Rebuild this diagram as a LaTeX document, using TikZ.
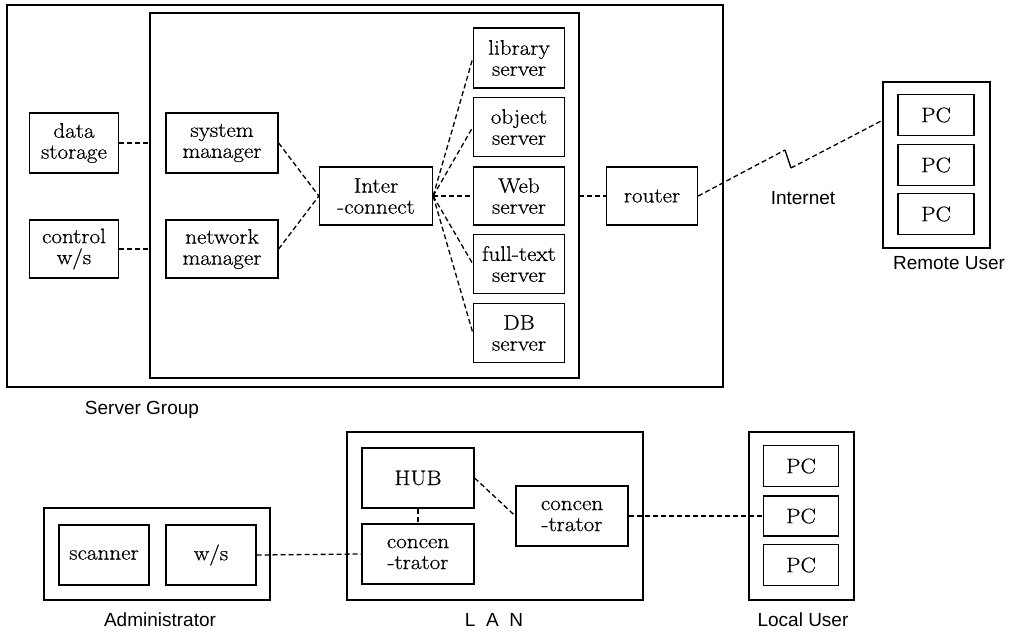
\documentclass[tikz,border=0pt]{standalone}
\usepackage{fontspec}
\newfontfamily\labelfont{Liberation Sans}
\newfontfamily\boxfont{Latin Modern Roman}[FakeBold=0.6,FakeStretch=1.1]
\begin{document}
\begin{tikzpicture}[x=1pt,y=-1pt,
  box/.style={draw,line width=1.3pt,inner sep=0pt,align=center,
    font=\boxfont\fontsize{21}{21}\selectfont},
  frame/.style={draw,line width=1.3pt},
  link/.style={line width=1.3pt,dash pattern=on 5pt off 3pt},
  lbl/.style={font=\labelfont\fontsize{19}{22}\selectfont}]
\useasboundingbox (0,0) rectangle (1011,633);
% frames
\draw[frame] (7,5) rectangle (723,387);
\draw[frame] (150,13) rectangle (579,378);
\draw[frame] (883,82) rectangle (990,248);
\draw[frame] (44,508) rectangle (270,600);
\draw[frame] (347,432) rectangle (643,600);
\draw[frame] (749,432) rectangle (854,600);
% boxes
\node[box,minimum width=89,minimum height=60] (ds) at (74,143) {data\\storage};
\node[box,minimum width=89,minimum height=58] (cw) at (74,249) {control\\w/s};
\node[box,minimum width=112,minimum height=60] (sm) at (222,143) {system\\manager};
\node[box,minimum width=112,minimum height=58] (nm) at (222,249) {network\\manager};
\node[box,minimum width=113,minimum height=58] (ic) at (376,196) {Inter\\-connect};
\node[box,minimum width=91,minimum height=60] (lib) at (519,58) {library\\server};
\node[box,minimum width=91,minimum height=59] (obj) at (519,127) {object\\server};
\node[box,minimum width=91,minimum height=58] (web) at (519,196) {Web\\server};
\node[box,minimum width=91,minimum height=59] (ft) at (519,264) {full-text\\server};
\node[box,minimum width=91,minimum height=59] (db) at (519,333) {DB\\server};
\node[box,minimum width=91,minimum height=58] (rt) at (652,196) {router};
\node[box,minimum width=76,minimum height=41] (rp1) at (936,115) {PC};
\node[box,minimum width=76,minimum height=41] (rp2) at (936,165) {PC};
\node[box,minimum width=76,minimum height=41] (rp3) at (936,214) {PC};
\node[box,minimum width=90,minimum height=60] (sc) at (104,555) {scanner};
\node[box,minimum width=90,minimum height=60] (ws) at (211,555) {w/s};
\node[box,minimum width=112,minimum height=60] (hub) at (418,478) {HUB};
\node[box,minimum width=112,minimum height=60] (c1) at (418,554) {concen\\-trator};
\node[box,minimum width=112,minimum height=60] (c2) at (572,516) {concen\\-trator};
\node[box,minimum width=75,minimum height=41] (lp1) at (801,466) {PC};
\node[box,minimum width=75,minimum height=40] (lp2) at (801,516) {PC};
\node[box,minimum width=75,minimum height=41] (lp3) at (801,565) {PC};
% labels
\node[lbl] (sg) at (142,410) {Server Group};
\node[lbl] (inet) at (803,198) {Internet};
\node[lbl] (ru) at (949,263) {Remote User};
\node[lbl] (ad) at (160,620) {Administrator};
\node[lbl] (lan) at (494,620) {L\ \ A\ \ N};
\node[lbl] (lu) at (803,620) {Local User};
% coordinates
\coordinate (ib1) at (150,143);
\coordinate (ib2) at (150,249);
\coordinate (ibr) at (579,196);
\coordinate (z1) at (785,150);
\coordinate (z2) at (791,168);
\coordinate (rin) at (883,120);
% connectors
\draw[link] (ds.east) -- (ib1);
\draw[link] (cw.east) -- (ib2);
\draw[link] (sm.east) -- (ic.west);
\draw[link] (nm.east) -- (ic.west);
\foreach \s in {lib,obj,web,ft,db}{\draw[link] (ic.east) -- (\s.west);}
\draw[link] (ibr) -- (rt.west);
\draw[link] (rt.east) -- (z1);
\draw[line width=1.3pt] (z1) -- (z2);
\draw[link] (z2) -- (rin);
\draw[link] (ws.east) -- (c1.west);
\draw[link] (hub.south) -- (c1.north);
\draw[link] (hub.east) -- (c2.west);
\draw[link] (c2.east) -- (lp2.west);
\end{tikzpicture}
\end{document}
